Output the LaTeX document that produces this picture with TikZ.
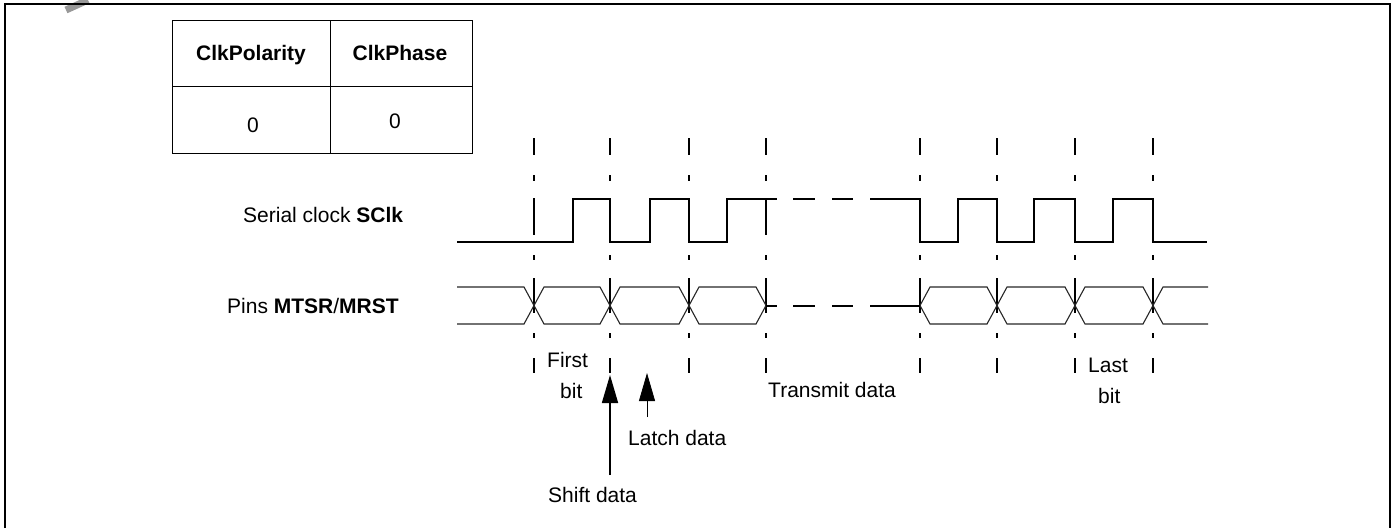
\documentclass[tikz,border=0pt]{standalone}
\usepackage{fontspec}
\setmainfont{Liberation Sans}
\usetikzlibrary{arrows.meta,positioning,calc}
\definecolor{Ink}{HTML}{000000}
\definecolor{Mark}{HTML}{989898}

\begin{document}
\begin{tikzpicture}[x=1pt,y=-1pt,font=\fontsize{21}{25}\selectfont,
  lbl/.style={inner sep=0pt,anchor=base west},
  hd/.style={inner sep=0pt,anchor=base,font=\fontsize{21}{25}\selectfont\bfseries},
  tick/.style={Ink,line width=1.6pt},
  clk/.style={Ink,line width=1.6pt,line join=miter},
  dat/.style={Ink!85,line width=1.1pt},
  uparrow/.style={-{Triangle[width=16pt,length=28pt]}}]
\useasboundingbox (0,0) rectangle (1396,528);
\draw[Mark,line width=7pt] (66,10) -- (88,0);
\draw[line width=2pt] (5,528) -- (5,4) -- (1390,4) -- (1390,528);
% mode table
\draw[line width=0.8pt] (172,20) rectangle (472,153) (330,20) -- (330,153) (172,86) -- (472,86);
\node[hd] (pol) at (251,60) {ClkPolarity};
\node[hd] (pha) at (400,60) {ClkPhase};
\node[lbl,anchor=base] (polv) at (253,132) {0};
\node[lbl,anchor=base] (phav) at (395,128) {0};
\node[lbl] (sclk) at (243,222) {Serial clock \textbf{SClk}};
\node[lbl] (pins) at (227,313) {Pins \textbf{MTSR}/\textbf{MRST}};
% bit boundaries
\foreach \x in {534,610,689,766,920,997,1075,1153}
  \foreach \a/\b in {138/155,175/181,198/235,255/260,278/313,333/338,358/373} {\draw[tick] (\x,\a) -- (\x,\b);}
% clock
\draw[clk] (457,242) -- (573,242) -- (573,199) -- (610,199) -- (610,242) -- (650,242) -- (650,199) -- (689,199) -- (689,242) -- (727,242) -- (727,199) -- (777,199);
\foreach \a/\b in {793/815,832/853} {\draw[clk] (\a,199) -- (\b,199);}
\draw[clk] (870,199) -- (920,199) -- (920,242) -- (958,242) -- (958,199) -- (997,199) -- (997,242) -- (1034,242) -- (1034,199) -- (1075,199) -- (1075,242) -- (1113,242) -- (1113,199) -- (1153,199) -- (1153,242) -- (1207,242);
% data
\draw[dat] (457,287) -- (524,287) -- (534,305.5) -- (524,324) -- (457,324);
\foreach \a/\b in {534/610,610/689,689/766,920/997,997/1075,1075/1153}
  {\draw[dat] (\a,305.5) -- ({\a+10},287) -- ({\b-10},287) -- (\b,305.5) -- ({\b-10},324) -- ({\a+10},324) -- cycle;}
\draw[dat] (1208,287) -- (1163,287) -- (1153,305.5) -- (1163,324) -- (1208,324);
\foreach \a/\b in {766/777,793/815,832/853,870/920} {\draw[tick] (\a,306) -- (\b,306);}
\node[lbl] (first) at (547,367) {First};
\node[lbl] (firstbit) at (560,398) {bit};
\node[lbl] (trans) at (768,397) {Transmit data};
\node[lbl] (last) at (1088,372) {Last};
\node[lbl] (lastbit) at (1098,403) {bit};
\node[lbl] (latch) at (628,445) {Latch data};
\node[lbl] (shift) at (548,502) {Shift data};
\coordinate (shifttip) at (610,375);
\coordinate (shiftfoot) at (610,475);
\coordinate (latchtip) at (647,373);
\coordinate (latchfoot) at (647,417);
\draw[uparrow,line width=1.6pt] (shiftfoot) -- (shifttip);
\draw[uparrow,line width=0.8pt] (latchfoot) -- (latchtip);
\end{tikzpicture}
\end{document}
